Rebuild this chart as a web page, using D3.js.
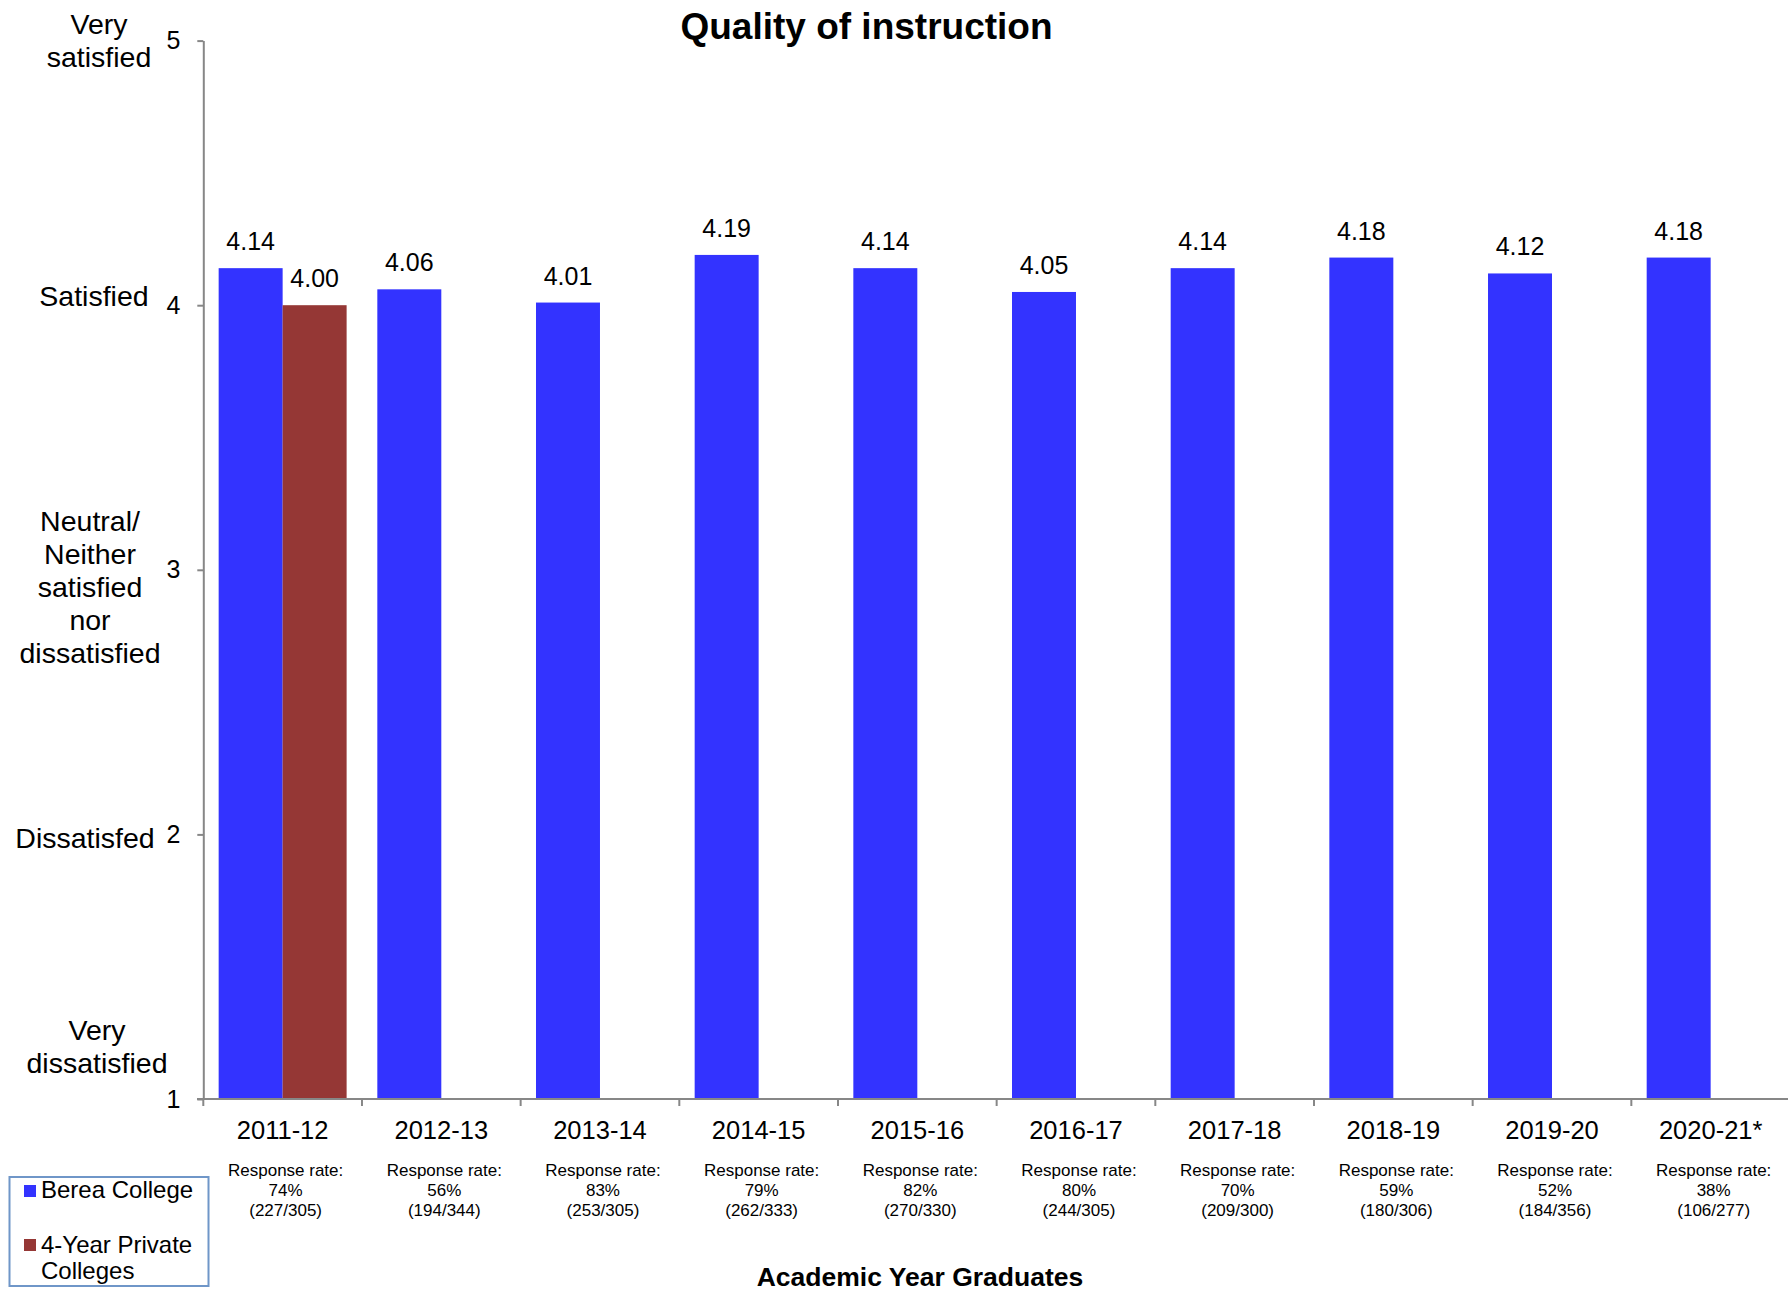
<!DOCTYPE html>
<html>
<head>
<meta charset="utf-8">
<script src="https://cdn.jsdelivr.net/npm/d3@7"></script>
<style>
  html, body { margin: 0; padding: 0; background: #fff; }
  svg { display: block; font-family: "Liberation Sans", Arial, sans-serif; }
</style>
</head>
<body>
<svg id="chart" width="1788" height="1292"></svg>
<script>
// ---------- data ----------
const categories = ["2011-12","2012-13","2013-14","2014-15","2015-16","2016-17","2017-18","2018-19","2019-20","2020-21*"];
const bereaValues = [4.14, 4.06, 4.01, 4.19, 4.14, 4.05, 4.14, 4.18, 4.12, 4.18];
const privateValues = [4.00, null, null, null, null, null, null, null, null, null];
const seriesNames = ["Berea College", "4-Year Private Colleges"];
const responsePercents = ["74%","56%","83%","79%","82%","80%","70%","59%","52%","38%"];
const responseCounts = ["(227/305)","(194/344)","(253/305)","(262/333)","(270/330)","(244/305)","(209/300)","(180/306)","(184/356)","(106/277)"];
const yTicks = [1, 2, 3, 4, 5];
const yTickLabels = [
  ["Very", "dissatisfied"],
  ["Dissatisfed"],
  ["Neutral/", "Neither", "satisfied", "nor", "dissatisfied"],
  ["Satisfied"],
  ["Very", "satisfied"]
];
const titleText = "Quality of instruction";
const xTitleText = "Academic Year Graduates";

// ---------- layout ----------
const colors = ["#3333FF", "#953735"];
const axisColor = "#878787";
const svg = d3.select("#chart");

const y = d3.scaleLinear().domain([1, 5]).range([1099, 40.6]);
const x0 = d3.scaleBand().domain(categories).range([203.3, 1790]).padding(0);
const x1 = d3.scaleBand().domain(seriesNames).range([0, x0.bandwidth()]).paddingInner(0).paddingOuter(0.24);

const rows = categories.map((c, i) => ({cat: c, vals: [bereaValues[i], privateValues[i]]}));

// Title
svg.append("text")
  .attr("x", 866.5).attr("y", 39)
  .attr("text-anchor", "middle")
  .attr("font-size", 37).attr("font-weight", "bold")
  .text(titleText);

// Bars
const groups = svg.append("g").selectAll("g").data(rows).join("g")
  .attr("transform", d => `translate(${x0(d.cat)},0)`);

groups.selectAll("rect")
  .data(d => d.vals.map((v, k) => ({v, k})).filter(e => e.v != null))
  .join("rect")
  .attr("x", e => x1(seriesNames[e.k]))
  .attr("width", x1.bandwidth())
  .attr("y", e => y(e.v))
  .attr("height", e => y(1) - y(e.v))
  .attr("fill", e => colors[e.k]);

groups.selectAll("text.val")
  .data(d => d.vals.map((v, k) => ({v, k})).filter(e => e.v != null))
  .join("text")
  .attr("class", "val")
  .attr("x", e => x1(seriesNames[e.k]) + x1.bandwidth() / 2)
  .attr("y", e => y(e.v) - 18)
  .attr("text-anchor", "middle")
  .attr("font-size", 25)
  .text(e => e.v.toFixed(2));

// Y axis
const yAxis = svg.append("g")
  .attr("transform", "translate(203.3,0)")
  .call(d3.axisLeft(y).tickValues(yTicks).tickFormat(d3.format("d")).tickSize(6).tickSizeOuter(0).tickPadding(17));
yAxis.select(".domain").attr("stroke", axisColor).attr("stroke-width", 2);
yAxis.selectAll(".tick line").attr("stroke", axisColor).attr("stroke-width", 2);
yAxis.selectAll(".tick text").attr("font-size", 25).attr("fill", "#000")
  .attr("font-family", "'Liberation Sans', Arial, sans-serif");

// Y category labels (manual layout like the original)
const yLabelLayout = [
  {cx: 97, lastOffset: -26},
  {cx: 85, lastOffset: 14},
  {cx: 90, lastOffset: 93},
  {cx: 94, lastOffset: 0.5},
  {cx: 99, lastOffset: 26}
];
const lineH = 33;
yTicks.forEach((t, i) => {
  const lines = yTickLabels[i];
  const lay = yLabelLayout[i];
  const lastBase = y(t) + lay.lastOffset;
  const tx = svg.append("text")
    .attr("text-anchor", "middle")
    .attr("font-size", 28.5);
  lines.forEach((ln, j) => {
    tx.append("tspan")
      .attr("x", lay.cx)
      .attr("y", lastBase - (lines.length - 1 - j) * lineH)
      .text(ln);
  });
});

// X axis
const xg = svg.append("g").attr("transform", `translate(0,${y(1)})`);
xg.append("line")
  .attr("x1", 197).attr("x2", 1788)
  .attr("y1", 0).attr("y2", 0)
  .attr("stroke", axisColor).attr("stroke-width", 2);
const boundaries = categories.map(c => x0(c)).concat([x0.range()[1]]);
xg.selectAll("line.bt").data(boundaries).join("line")
  .attr("class", "bt")
  .attr("x1", d => d).attr("x2", d => d)
  .attr("y1", 0).attr("y2", 7)
  .attr("stroke", axisColor).attr("stroke-width", 2);

const xAxis = xg.append("g")
  .call(d3.axisBottom(x0).tickSize(0).tickSizeOuter(0));
xAxis.select(".domain").remove();
xAxis.selectAll(".tick text")
  .attr("y", 40).attr("dy", 0)
  .attr("font-size", 25.5).attr("fill", "#000")
  .attr("font-family", "'Liberation Sans', Arial, sans-serif");

// Response rate annotations
const rr = svg.append("g").selectAll("text").data(categories).join("text")
  .attr("text-anchor", "middle")
  .attr("font-size", 17);
rr.each(function(c, i) {
  const cx = x0(c) + x0.bandwidth() / 2 + 3;
  const t = d3.select(this);
  ["Response rate:", responsePercents[i], responseCounts[i]].forEach((s, j) => {
    t.append("tspan").attr("x", cx).attr("y", 1176 + j * 20).text(s);
  });
});

// X axis title
svg.append("text")
  .attr("x", 920).attr("y", 1286)
  .attr("text-anchor", "middle")
  .attr("font-size", 26.5).attr("font-weight", "bold")
  .text(xTitleText);

// Legend
const lg = svg.append("g");
lg.append("rect")
  .attr("x", 9.5).attr("y", 1177).attr("width", 199).attr("height", 109)
  .attr("fill", "#fff").attr("stroke", "#6f96c8").attr("stroke-width", 2);
const legendItems = [
  {lines: ["Berea College"], base: 1198, sqY: 1185},
  {lines: ["4-Year Private", "Colleges"], base: 1253, sqY: 1239}
];
legendItems.forEach((it, i) => {
  lg.append("rect").attr("x", 24).attr("y", it.sqY).attr("width", 12).attr("height", 12).attr("fill", colors[i]);
  const t = lg.append("text").attr("font-size", 24);
  it.lines.forEach((ln, j) => {
    t.append("tspan").attr("x", 41).attr("y", it.base + j * 26).text(ln);
  });
});
</script>
</body>
</html>
